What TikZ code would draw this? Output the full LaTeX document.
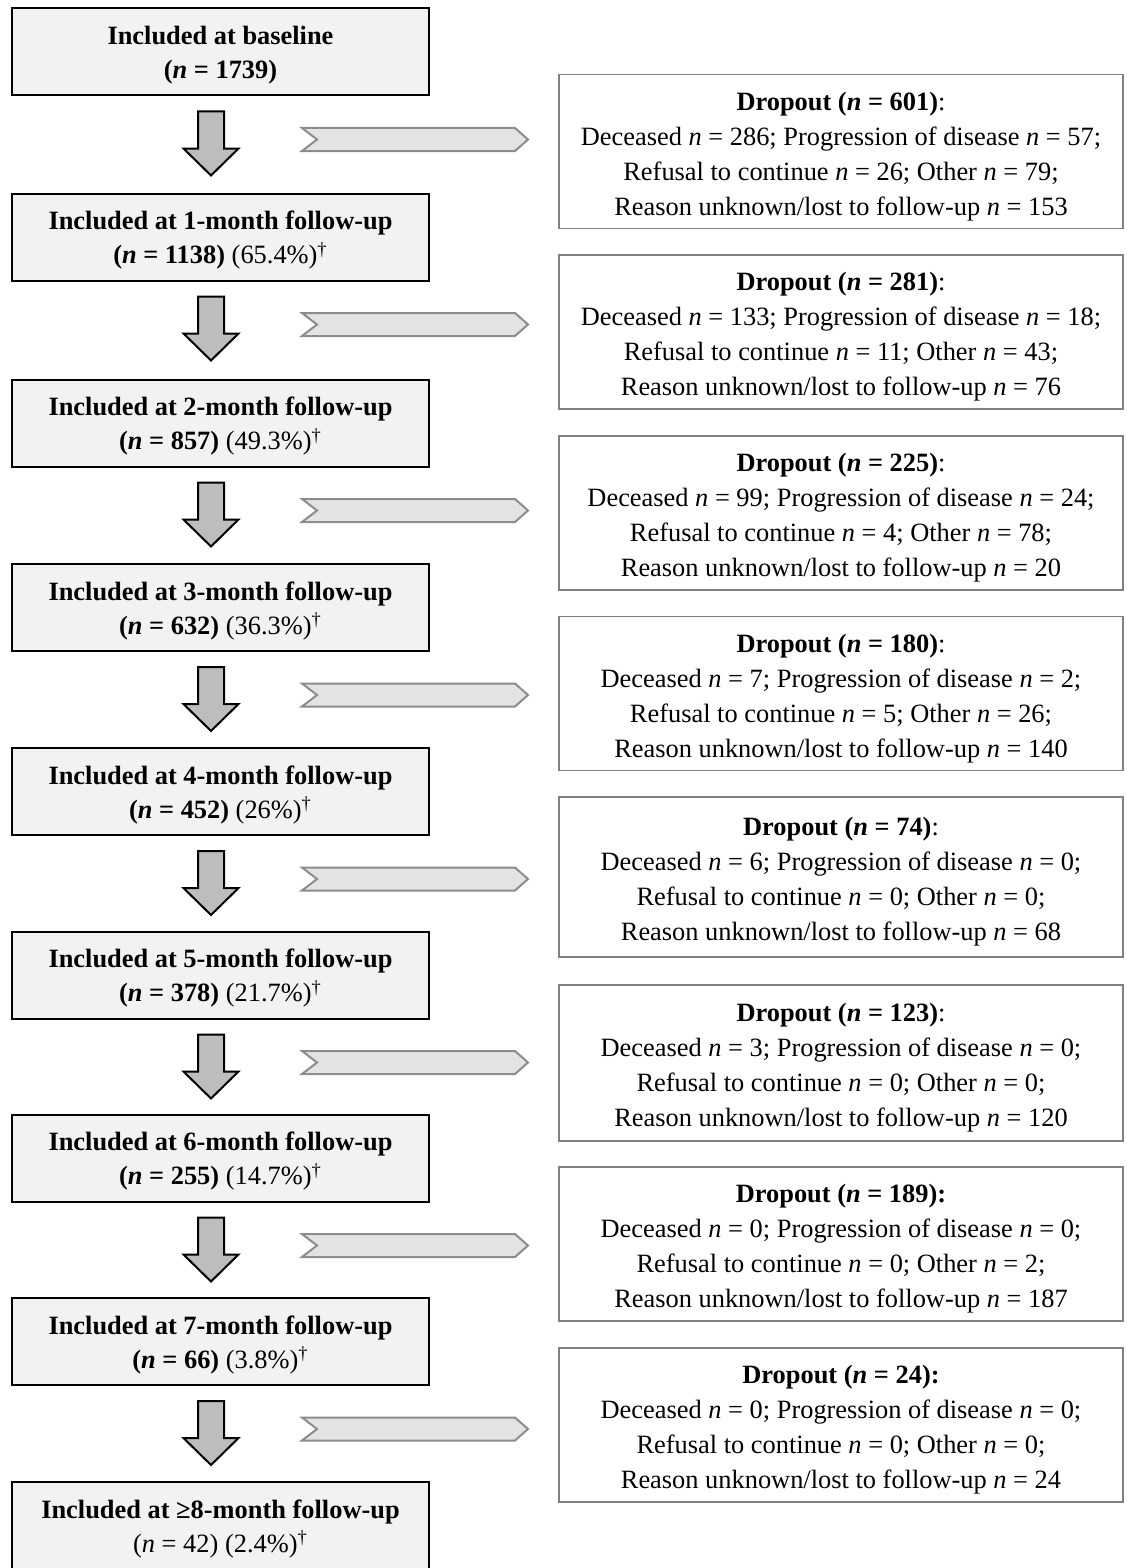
\documentclass[tikz,border=0pt]{standalone}
\usepackage{fontspec}
\setmainfont{Liberation Serif}
\usepackage{tikz}
\usetikzlibrary{calc,positioning}
\definecolor{stagefill}{HTML}{F2F2F2}
\definecolor{boxgray}{HTML}{808080}
\definecolor{arrowgray}{HTML}{BDBDBD}
\definecolor{chevgray}{HTML}{8C8C8C}
\definecolor{chevfill}{HTML}{E3E3E3}
\newcommand{\stagestrut}{\rule{0pt}{12.6pt}}
\newcommand{\dropstrut}{\rule{0pt}{14.2pt}}

\begin{document}
\begin{tikzpicture}[x=0.5pt, y=-0.5pt,
    stage/.style={draw=black, line width=1pt, fill=stagefill, minimum width=208.5pt,
      minimum height=43.5pt, align=center, inner sep=0pt,
      font=\fontsize{13.2pt}{17pt}\selectfont},
    dropbox/.style={draw=boxgray, line width=0.8pt, fill=white, minimum width=282pt,
      minimum height=77pt, align=center, inner sep=0pt,
      font=\fontsize{13.2pt}{17.5pt}\selectfont},
    downarr/.pic={\draw[line width=1pt, fill=arrowgray] (-13,-32) -- (13,-32) -- (13,5)
      -- (27.5,5) -- (0,32) -- (-27.5,5) -- (-13,5) -- cycle;},
    sidearr/.pic={\draw[line width=1pt, draw=chevgray, fill=chevfill] (-113,-11.5)
      -- (100,-11.5) -- (113,0) -- (100,11.5) -- (-113,11.5) -- (-98,0) -- cycle;}]
  \useasboundingbox (0,0) rectangle (1127,1568);
  \clip (0,0) rectangle (1127,1568);

  \node[stage] (base) at (220.5,52) {\stagestrut\textbf{Included at baseline}\\\textbf{(\textit{n} = 1739)}};
  \node[stage] (m1) at (220.5,237) {\stagestrut\textbf{Included at 1-month follow-up}\\\textbf{(\textit{n} = 1138)} (65.4\%)\textsuperscript{\textdagger}};
  \node[stage] (m2) at (220.5,423) {\stagestrut\textbf{Included at 2-month follow-up}\\\textbf{(\textit{n} = 857)} (49.3\%)\textsuperscript{\textdagger}};
  \node[stage] (m3) at (220.5,607.5) {\stagestrut\textbf{Included at 3-month follow-up}\\\textbf{(\textit{n} = 632)} (36.3\%)\textsuperscript{\textdagger}};
  \node[stage] (m4) at (220.5,791.5) {\stagestrut\textbf{Included at 4-month follow-up}\\\textbf{(\textit{n} = 452)} (26\%)\textsuperscript{\textdagger}};
  \node[stage] (m5) at (220.5,975) {\stagestrut\textbf{Included at 5-month follow-up}\\\textbf{(\textit{n} = 378)} (21.7\%)\textsuperscript{\textdagger}};
  \node[stage] (m6) at (220.5,1158) {\stagestrut\textbf{Included at 6-month follow-up}\\\textbf{(\textit{n} = 255)} (14.7\%)\textsuperscript{\textdagger}};
  \node[stage] (m7) at (220.5,1341.5) {\stagestrut\textbf{Included at 7-month follow-up}\\\textbf{(\textit{n} = 66)} (3.8\%)\textsuperscript{\textdagger}};
  \node[stage] (m8) at (220.5,1525.5) {\stagestrut\textbf{Included at ≥8-month follow-up}\\(\textit{n} = 42) (2.4\%)\textsuperscript{\textdagger}};

  \node[dropbox] (d1) at (841,151.5) {\dropstrut\textbf{Dropout (\textit{n} = 601)}:\\Deceased \textit{n} = 286; Progression of disease \textit{n} = 57;\\Refusal to continue \textit{n} = 26; Other \textit{n} = 79;\\Reason unknown/lost to follow-up \textit{n} = 153};
  \node[dropbox] (d2) at (841,332) {\dropstrut\textbf{Dropout (\textit{n} = 281)}:\\Deceased \textit{n} = 133; Progression of disease \textit{n} = 18;\\Refusal to continue \textit{n} = 11; Other \textit{n} = 43;\\Reason unknown/lost to follow-up \textit{n} = 76};
  \node[dropbox] (d3) at (841,513) {\dropstrut\textbf{Dropout (\textit{n} = 225)}:\\Deceased \textit{n} = 99; Progression of disease \textit{n} = 24;\\Refusal to continue \textit{n} = 4; Other \textit{n} = 78;\\Reason unknown/lost to follow-up \textit{n} = 20};
  \node[dropbox] (d4) at (841,693.5) {\dropstrut\textbf{Dropout (\textit{n} = 180)}:\\Deceased \textit{n} = 7; Progression of disease \textit{n} = 2;\\Refusal to continue \textit{n} = 5; Other \textit{n} = 26;\\Reason unknown/lost to follow-up \textit{n} = 140};
  \node[dropbox, minimum height=80pt] (d5) at (841,877) {\dropstrut\textbf{Dropout (\textit{n} = 74)}:\\Deceased \textit{n} = 6; Progression of disease \textit{n} = 0;\\Refusal to continue \textit{n} = 0; Other \textit{n} = 0;\\Reason unknown/lost to follow-up \textit{n} = 68};
  \node[dropbox, minimum height=78pt] (d6) at (841,1063) {\dropstrut\textbf{Dropout (\textit{n} = 123)}:\\Deceased \textit{n} = 3; Progression of disease \textit{n} = 0;\\Refusal to continue \textit{n} = 0; Other \textit{n} = 0;\\Reason unknown/lost to follow-up \textit{n} = 120};
  \node[dropbox] (d7) at (841,1244) {\dropstrut\textbf{Dropout (\textit{n} = 189):}\\Deceased \textit{n} = 0; Progression of disease \textit{n} = 0;\\Refusal to continue \textit{n} = 0; Other \textit{n} = 2;\\Reason unknown/lost to follow-up \textit{n} = 187};
  \node[dropbox] (d8) at (841,1425) {\dropstrut\textbf{Dropout (\textit{n} = 24):}\\Deceased \textit{n} = 0; Progression of disease \textit{n} = 0;\\Refusal to continue \textit{n} = 0; Other \textit{n} = 0;\\Reason unknown/lost to follow-up \textit{n} = 24};

  \foreach \a in {base,m1,m2,m3,m4,m5,m6,m7} {
    \pic at ($(\a.south)+(-9.5,47)$) {downarr};
    \pic at ($(\a.south)+(194.5,43)$) {sidearr};
  }
\end{tikzpicture}
\end{document}
